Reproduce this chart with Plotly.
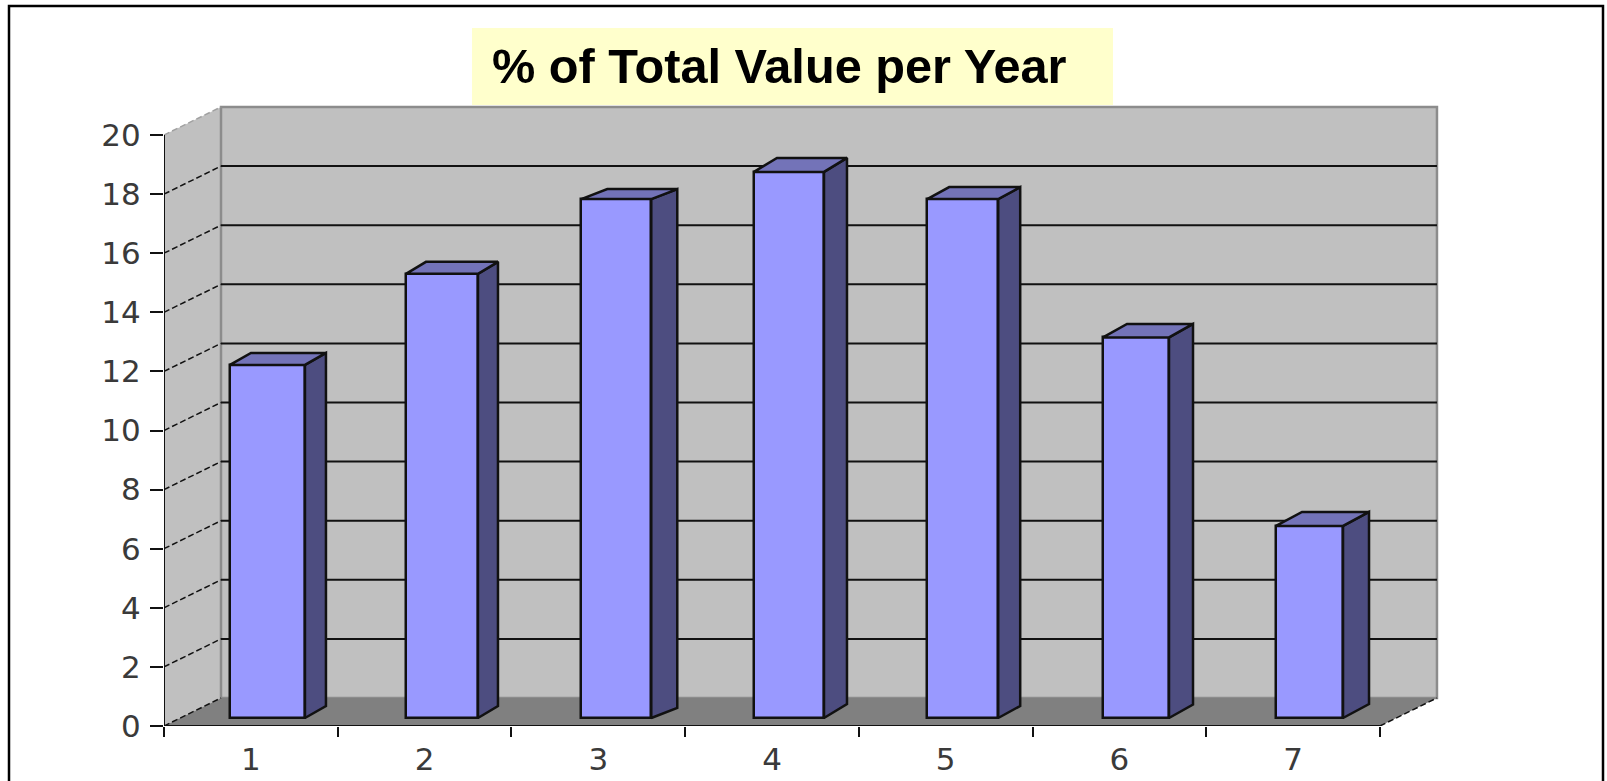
import plotly.graph_objects as go

# ---- data ----
categories = [1, 2, 3, 4, 5, 6, 7]
tick_labels = ["1", "2", "3", "4", "5", "6", "7"]
values = [11.95, 15.03, 17.56, 18.48, 17.56, 12.88, 6.5]
y_ticks = [0, 2, 4, 6, 8, 10, 12, 14, 16, 18, 20]

# ---- layout constants (pixels of the 1607x781 page) ----
W, H = 1607, 781
X0, Y0 = 164, 726           # origin of the front axes
PX_PER_CAT = 173.71
PX_PER_UNIT = 29.55
PLOT_R, PLOT_T = 1446, 100  # plot area limits
DEPTH_X, DEPTH_Y = 57 / PX_PER_CAT, 28 / PX_PER_UNIT
BAR_DX = [d / PX_PER_CAT for d in (21, 20, 26, 23, 22, 24, 26)]
BAR_DY = [d / PX_PER_UNIT for d in (12, 12, 10, 14, 12, 13.5, 14)]
BAR_BASE = 8 / PX_PER_UNIT
BAR_SHIFT = [s / PX_PER_CAT for s in (16.6, 17.4, 18.0, 17.0, 17.0, 16.6, 16.4)]
BAR_W = [w / PX_PER_CAT for w in (75, 72, 70, 70, 71, 66, 67)]

WALL, FLOOR = "#C0C0C0", "#808080"
FRONT, SIDE, TOP = "#9999FF", "#4D4D80", "#7373B8"
INK = "#111111"
FONT = "DejaVu Sans"

x_lo, x_hi = 0.5, 7.5
x_range = [x_lo, x_lo + (PLOT_R - X0) / PX_PER_CAT]
y_range = [0, (Y0 - PLOT_T) / PX_PER_UNIT]
y_max = y_ticks[-1]


def paper(xa, ya):
    """Convert page pixels to paper coordinates of the plot area."""
    return ((xa - X0) / (PLOT_R - X0), (Y0 - ya) / (Y0 - PLOT_T))


def poly_path(points):
    return "M " + " L ".join(f"{x:.4f},{y:.4f}" for x, y in points) + " Z"


shapes = []
# page frame and title background (paper coordinates, unclipped)
fx0, fy0 = paper(9, 6)
fx1, fy1 = paper(1603, 800)
shapes.append(dict(type="rect", layer="below", xref="paper", yref="paper",
                   x0=fx0, x1=fx1, y0=fy1, y1=fy0, fillcolor="white", line=dict(color="#000000", width=2.5)))
tx0, ty0 = paper(472, 28)
tx1, ty1 = paper(1113, 105)
shapes.append(dict(type="rect", layer="below", xref="paper", yref="paper",
                   x0=tx0, x1=tx1, y0=ty1, y1=ty0, fillcolor="#FFFFCC", line_width=0))
# floor, side wall, back wall
bx0, bx1 = x_lo + DEPTH_X, x_hi + DEPTH_X
shapes.append(dict(type="path", layer="below", xref="x", yref="y", fillcolor=WALL, line_width=0,
                   path=poly_path([(x_lo, 0), (x_lo, y_max), (bx0, y_max + DEPTH_Y), (bx0, DEPTH_Y)])))
shapes.append(dict(type="rect", layer="below", xref="x", yref="y", fillcolor=WALL,
                   x0=bx0, x1=bx1, y0=DEPTH_Y, y1=y_max + DEPTH_Y, line=dict(color="#8C8C8C", width=2.5)))
shapes.append(dict(type="path", layer="below", xref="x", yref="y", fillcolor=FLOOR, line_width=0,
                   path=poly_path([(x_lo, 0), (bx0, DEPTH_Y), (bx1, DEPTH_Y), (x_hi, 0)])))
# gridlines on the back and side wall
for t in y_ticks[1:]:
    colour = "#A0A0A0" if t == y_max else INK
    if t != y_max:
        shapes.append(dict(type="line", layer="below", xref="x", yref="y",
                           x0=bx0, x1=bx1, y0=t + DEPTH_Y, y1=t + DEPTH_Y,
                           line=dict(color=INK, width=2)))
    shapes.append(dict(type="line", layer="below", xref="x", yref="y",
                       x0=x_lo, x1=bx0, y0=t, y1=t + DEPTH_Y,
                       line=dict(color=colour, width=1.5, dash="6px,3px")))
# floor edges
for xs in (x_lo, x_hi):
    shapes.append(dict(type="line", layer="below", xref="x", yref="y",
                       x0=xs, x1=xs + DEPTH_X, y0=0, y1=DEPTH_Y,
                       line=dict(color=INK, width=1.5, dash="6px,3px")))

# bar geometry derived from the values
centres = [c + s for c, s in zip(categories, BAR_SHIFT)]
side_x, side_y, top_x, top_y = [], [], [], []
for c, w, v, dx, dy in zip(centres, BAR_W, values, BAR_DX, BAR_DY):
    l, r = c - w / 2, c + w / 2
    b, t = BAR_BASE, BAR_BASE + v
    side_x += [r, r + dx, r + dx, r, r, None]
    side_y += [b, b + dy, t + dy, t, b, None]
    top_x += [l, l + dx, r + dx, r, l, None]
    top_y += [t, t + dy, t + dy, t, t, None]

fig = go.Figure()
fig.add_trace(go.Bar(x=centres, y=values, base=BAR_BASE, width=BAR_W,
                     marker=dict(color=FRONT, line=dict(color=INK, width=2.5)),
                     hoverinfo="skip", showlegend=False))
fig.add_trace(go.Scatter(x=side_x, y=side_y, mode="lines", fill="toself", fillcolor=SIDE,
                         line=dict(color=INK, width=2.5), hoverinfo="skip", showlegend=False))
fig.add_trace(go.Scatter(x=top_x, y=top_y, mode="lines", fill="toself", fillcolor=TOP,
                         line=dict(color=INK, width=2.5), hoverinfo="skip", showlegend=False))
# front axis lines
fig.add_trace(go.Scatter(x=[x_lo, x_lo, None, x_lo, x_hi], y=[y_max, 0, None, 0, 0], mode="lines",
                         line=dict(color=INK, width=2), cliponaxis=False,
                         hoverinfo="skip", showlegend=False))

tick_font = dict(family=FONT, size=31, color="#3A3A3A")
fig.update_layout(
    width=W, height=H,
    margin=dict(l=X0, r=W - PLOT_R, t=PLOT_T, b=H - Y0, pad=0, autoexpand=False),
    paper_bgcolor="white", plot_bgcolor="rgba(0,0,0,0)",
    showlegend=False, shapes=shapes, bargap=0,
    title=dict(text="<b>% of Total Value per Year</b>", automargin=False,
               x=492 / W, xanchor="left", xref="container",
               y=1 - 66 / H, yanchor="middle", yref="container",
               font=dict(family="Liberation Sans", size=48.7, color="#000000")),
    xaxis=dict(range=x_range, showgrid=False, zeroline=False, showline=False, automargin=False,
               tickmode="array", tickvals=categories, ticktext=tick_labels, ticks="",
               tickfont=tick_font, ticklabelstandoff=12,
               minor=dict(tickmode="array", tickvals=[c - 0.5 for c in categories] + [categories[-1] + 0.5],
                          ticks="outside", ticklen=10, tickwidth=2, tickcolor=INK, showgrid=False)),
    yaxis=dict(range=y_range, showgrid=False, zeroline=False, showline=False, automargin=False,
               tickmode="array", tickvals=y_ticks, ticks="outside", ticklen=13, tickwidth=2, tickcolor=INK,
               tickfont=tick_font, ticklabelstandoff=3),
)

fig.write_html("out.html", config={"displayModeBar": False},
               post_script="document.body.style.margin='0';")
